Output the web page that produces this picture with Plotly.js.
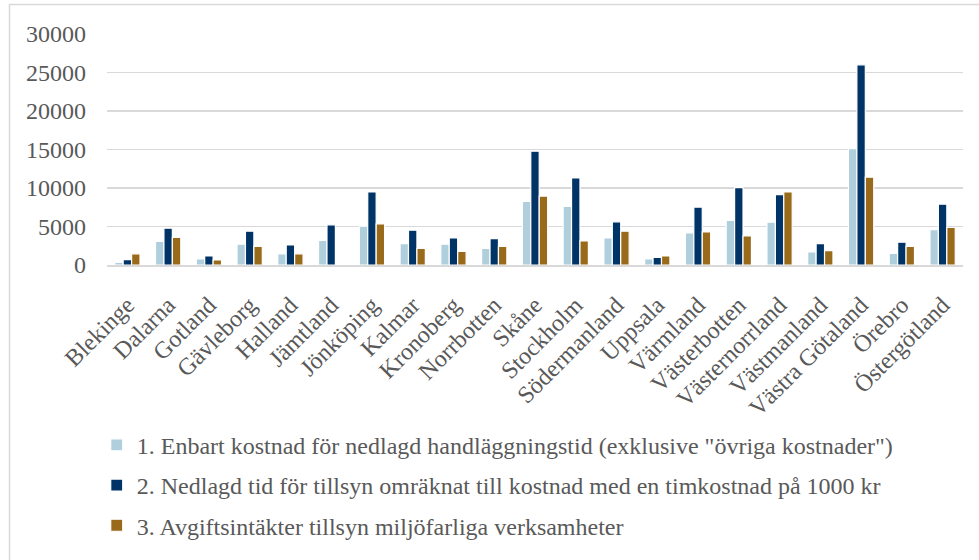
<!DOCTYPE html>
<html>
<head>
<meta charset="utf-8">
<script src="https://cdn.plot.ly/plotly-3.0.1.min.js"></script>
<style>
  html, body { margin: 0; padding: 0; background: #fff; }
  #chart { width: 979px; height: 560px; }
</style>
</head>
<body>
<div id="chart"></div>
<script>
// Län (counties)
const lan = ["Blekinge", "Dalarna", "Gotland", "Gävleborg", "Halland", "Jämtland",
  "Jönköping", "Kalmar", "Kronoberg", "Norrbotten", "Skåne", "Stockholm",
  "Södermanland", "Uppsala", "Värmland", "Västerbotten", "Västernorrland",
  "Västmanland", "Västra Götaland", "Örebro", "Östergötland"];

// 1. Enbart kostnad för nedlagd handläggningstid
const kostnadHandlaggning = [350, 3050, 780, 2700, 1450, 3200, 5050, 2780, 2700, 2170,
  8250, 7600, 3520, 780, 4170, 5780, 5570, 1700, 15100, 1520, 4600];

// 2. Nedlagd tid omräknat med timkostnad 1000 kr
const kostnadTimkostnad = [700, 4780, 1170, 4390, 2600, 5220, 9480, 4520, 3520, 3430,
  14780, 11300, 5600, 1000, 7520, 10050, 9130, 2780, 26000, 2960, 7900];

// 3. Avgiftsintäkter tillsyn miljöfarliga verksamheter
const avgiftsintakter = [1450, 3600, 650, 2430, 1450, 0, 5350, 2170, 1780, 2430,
  8950, 3130, 4390, 1170, 4300, 3780, 9480, 1870, 11400, 2430, 4870];

const seriesNames = [
  '1. Enbart kostnad för nedlagd handläggningstid (exklusive "övriga kostnader")',
  '2. Nedlagd tid för tillsyn omräknat till kostnad med en timkostnad på 1000 kr',
  '3. Avgiftsintäkter tillsyn miljöfarliga verksamheter'
];
const seriesColors = ["#AFCFDC", "#003366", "#9A6A1B"];
const yTicks = [0, 5000, 10000, 15000, 20000, 25000, 30000];

const textColor = "#595959";
const gridColor = "#D9D9D9";
const fontFamily = "Liberation Serif, Times New Roman, serif";
const fontSize = 24;

const traces = [kostnadHandlaggning, kostnadTimkostnad, avgiftsintakter].map((vals, i) => ({
  type: "bar",
  x: lan,
  y: vals,
  name: seriesNames[i],
  legendgroup: "g" + i,
  marker: { color: seriesColors[i], line: { color: "#ffffff", width: 1.2 } },
  hoverinfo: "x+y"
}));

const layout = {
  width: 979,
  height: 560,
  paper_bgcolor: "#ffffff",
  plot_bgcolor: "#ffffff",
  font: { family: fontFamily, color: textColor, size: fontSize },
  margin: { l: 107, r: 16, t: 34, b: 295, pad: 0, autoexpand: false },
  barmode: "group",
  bargap: 0.38,
  bargroupgap: 0,
  showlegend: true,
  legend: {
    orientation: "v",
    x: -0.012,
    xanchor: "left",
    y: -0.683,
    yanchor: "top",
    font: { family: fontFamily, size: fontSize, color: textColor },
    tracegroupgap: 6,
    itemwidth: 30,
    bgcolor: "rgba(0,0,0,0)"
  },
  xaxis: {
    type: "category",
    automargin: false,
    tickangle: -45,
    showgrid: false,
    showline: true,
    linecolor: gridColor,
    linewidth: 1.5,
    ticks: "",
    ticklabelstandoff: 15,
    tickfont: { family: fontFamily, size: fontSize, color: textColor },
    fixedrange: true
  },
  yaxis: {
    range: [0, 30000],
    automargin: false,
    tickvals: yTicks,
    ticktext: yTicks.map(String),
    showgrid: true,
    gridcolor: gridColor,
    gridwidth: 1.5,
    zeroline: false,
    showline: false,
    ticks: "",
    ticklabelstandoff: 20,
    tickfont: { family: fontFamily, size: fontSize, color: textColor },
    fixedrange: true
  },
  shapes: [{
    type: "rect",
    xref: "paper", yref: "paper",
    x0: -0.1139, x1: 1.2,
    y0: 1.1277, y1: -2,
    line: { color: gridColor, width: 1.5 },
    fillcolor: "rgba(0,0,0,0)",
    layer: "below"
  }]
};

Plotly.newPlot("chart", traces, layout, { displayModeBar: false, staticPlot: true });
</script>
</body>
</html>
